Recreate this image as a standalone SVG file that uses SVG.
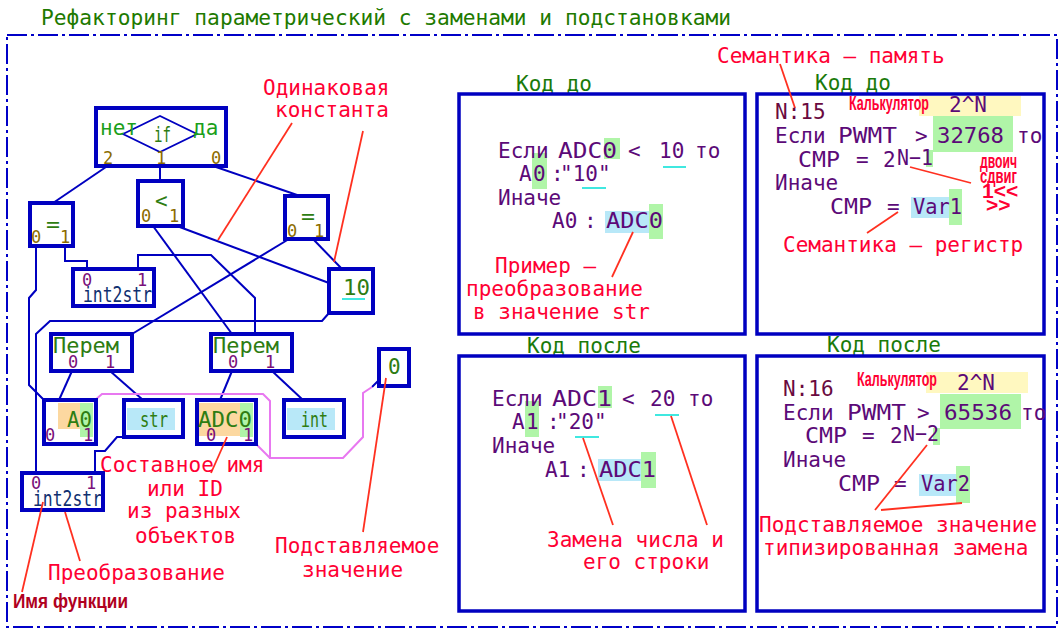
<svg xmlns="http://www.w3.org/2000/svg" width="1064" height="636" viewBox="0 0 1064 636">
<style>
text { font-family: "DejaVu Sans Mono", "Liberation Mono", monospace; font-size: 21px; }
.title { fill: #1e7a00; }
.red { fill: #ff0033; }
.code { fill: #5c0a78; }
.maroon { fill: #6a0a40; }
.lbl { fill: #1a7a0a; }
.gt { fill: #2e7d12; }
.num { fill: #8c6c00; font-size: 17px; }
.pnum { fill: #7a107a; font-size: 17px; }
.fn { fill: #103070; }
.bold { font-family: "Liberation Sans", "DejaVu Sans", sans-serif; font-weight: bold; }
.node { fill: #ffffff; stroke: #0000c0; stroke-width: 4; }
.cbox { fill: none; stroke: #0000c0; stroke-width: 3.5; }
.conn { fill: none; stroke: #0000c0; stroke-width: 2; }
.pink { fill: none; stroke: #e878f0; stroke-width: 2; }
.ann { stroke: #ff3020; stroke-width: 1.8; fill: none; }
.hg { fill: #b0f5a8; }
.hb { fill: #b8e8f8; }
.ho { fill: #fcd8a0; }
.hy { fill: #fff8c0; }
.ul { stroke: #40e8e0; stroke-width: 2; }
</style>
<rect width="1064" height="636" fill="#ffffff"/>
<text class="title" x="41" y="25" textLength="690" lengthAdjust="spacingAndGlyphs">Рефакторинг параметрический с заменами и подстановками</text>
<rect x="7" y="35" width="1050" height="592" fill="none" stroke="#0000c8" stroke-width="2" stroke-dasharray="20 4 3 4"/>

<!-- connectors -->
<g id="connectors">
  <path class="conn" d="M106,167 L53,203"/>
  <path class="conn" d="M160,167 L160,181"/>
  <path class="conn" d="M216,167 L300,196"/>
  <path class="conn" d="M177,226 L329,283"/>
  <path class="conn" d="M153,226 L232,334"/>
  <path class="conn" d="M289,239 L132,334"/>
  <path class="conn" d="M313,239 L342,269"/>
  <path class="conn" d="M36,246 L36,290 L29,298 L29,385 L44,400"/>
  <path class="conn" d="M65,246 L65,261 L87,261 L87,269"/>
  <path class="conn" d="M138,269 L138,255 L211,255 L255,298 L255,334"/>
  <path class="conn" d="M329,313 L322,321 L50,321 L36,334 L36,473"/>
  <path class="conn" d="M72,371 L59,400"/>
  <path class="conn" d="M110,371 L143,400"/>
  <path class="conn" d="M232,371 L220,400"/>
  <path class="conn" d="M272,371 L303,400"/>
  <path class="conn" d="M124,437 L117,437 L105,451 L95,451 L95,473"/>
  <path class="conn" d="M372,387 L379,380"/>
  <path class="pink" d="M86,408 L102,394 L263,394 L270,401 L270,458 L343,458 L363,437 L363,393 L372,387"/>
  <path class="pink" d="M256,444 L270,458"/>
</g>

<!-- left graph nodes -->
<g id="if">
  <rect class="node" x="96" y="108" width="130" height="58"/>
  <path d="M123,134 L160,116 L197,134 L160,152 Z" fill="none" stroke="#0000c0" stroke-width="1.8"/>
  <text x="100" y="135" fill="#1aa01a" font-size="18">нет</text>
  <text x="193" y="135" fill="#1aa01a" font-size="18">да</text>
  <text x="154" y="142" class="gt" font-size="19" textLength="17" lengthAdjust="spacingAndGlyphs">if</text>
  <text x="103" y="164" class="num" font-size="18">2</text>
  <text x="156" y="164" class="num" font-size="18">1</text>
  <text x="211" y="164" class="num" font-size="18">0</text>
</g>
<g id="lt">
  <rect class="node" x="138" y="181" width="45" height="45"/>
  <text x="155" y="208" class="gt">&lt;</text>
  <text x="141" y="222" class="num">0</text>
  <text x="169" y="222" class="num">1</text>
</g>
<g id="eqL">
  <rect class="node" x="30" y="203" width="43" height="43"/>
  <text x="46" y="232" class="gt" font-size="24" textLength="14" lengthAdjust="spacingAndGlyphs">=</text>
  <text x="31" y="243" class="num">0</text>
  <text x="60" y="243" class="num">1</text>
</g>
<g id="eqR">
  <rect class="node" x="285" y="196" width="43" height="43"/>
  <text x="301" y="224" class="gt" font-size="24" textLength="14" lengthAdjust="spacingAndGlyphs">=</text>
  <text x="287" y="237" class="num">0</text>
  <text x="314" y="237" class="num">1</text>
</g>
<g id="c10">
  <rect class="node" x="329" y="269" width="44" height="44"/>
  <text x="343" y="295" class="gt" textLength="27" lengthAdjust="spacingAndGlyphs">10</text>
  <line class="ul" x1="342" y1="299" x2="365" y2="299"/>
</g>
<g id="int2strTop">
  <rect class="node" x="73" y="269" width="81" height="37"/>
  <text x="82" y="286" class="pnum">0</text>
  <text x="137" y="286" class="pnum">1</text>
  <text x="83" y="302" class="fn" textLength="69" lengthAdjust="spacingAndGlyphs">int2str</text>
</g>
<g id="perem1">
  <rect class="node" x="51" y="334" width="81" height="37"/>
  <text x="53" y="353" class="gt" textLength="66" lengthAdjust="spacingAndGlyphs">Перем</text>
  <text x="68" y="368" class="pnum">0</text>
  <text x="105" y="368" class="pnum">1</text>
</g>
<g id="perem2">
  <rect class="node" x="211" y="334" width="81" height="37"/>
  <text x="213" y="353" class="gt" textLength="66" lengthAdjust="spacingAndGlyphs">Перем</text>
  <text x="228" y="368" class="pnum">0</text>
  <text x="265" y="368" class="pnum">1</text>
</g>
<g id="a0">
  <rect class="node" x="44" y="400" width="52" height="44"/>
  <rect class="ho" x="58" y="403" width="22" height="26"/>
  <rect class="hg" x="80" y="403" width="13" height="34"/>
  <text x="67" y="427" class="gt" textLength="25" lengthAdjust="spacingAndGlyphs">A0</text>
  <text x="45" y="441" class="pnum">0</text>
  <text x="83" y="441" class="pnum">1</text>
</g>
<g id="str">
  <rect class="node" x="124" y="400" width="59" height="37"/>
  <rect class="hb" x="127" y="408" width="48" height="22"/>
  <text x="140" y="427" class="gt" textLength="28" lengthAdjust="spacingAndGlyphs">str</text>
</g>
<g id="adc0">
  <rect class="node" x="197" y="400" width="59" height="44"/>
  <rect class="ho" x="199" y="403" width="41" height="33"/>
  <rect class="hg" x="240" y="403" width="13" height="34"/>
  <text x="198" y="427" class="gt" textLength="54" lengthAdjust="spacingAndGlyphs">ADC0</text>
  <text x="206" y="441" class="pnum">0</text>
  <text x="243" y="441" class="pnum">1</text>
</g>
<g id="int">
  <rect class="node" x="284" y="400" width="60" height="37"/>
  <rect class="hb" x="287" y="408" width="48" height="22"/>
  <text x="301" y="427" class="gt" textLength="27" lengthAdjust="spacingAndGlyphs">int</text>
</g>
<g id="zero">
  <rect class="node" x="379" y="349" width="30" height="37"/>
  <text x="388" y="374" class="gt">0</text>
</g>
<g id="int2strBottom">
  <rect class="node" x="22" y="473" width="81" height="37"/>
  <text x="31" y="489" class="pnum">0</text>
  <text x="86" y="489" class="pnum">1</text>
  <text x="33" y="506" class="fn" textLength="69" lengthAdjust="spacingAndGlyphs">int2str</text>
</g>

<!-- annotations left -->
<g id="annotations-left">
  <path class="ann" d="M292,123 L218,240"/>
  <path class="ann" d="M363,131 L334,262"/>
  <path class="ann" d="M227,437 L211,473"/>
  <path class="ann" d="M65,512 L80,561"/>
  <path class="ann" d="M43,502 L22,592"/>
  <path class="ann" d="M386,378 L363,532"/>
  <text class="red" x="263" y="95">Одинаковая</text>
  <text class="red" x="275" y="117">константа</text>
  <text class="red" x="100" y="472">Составное имя</text>
  <text class="red" x="147" y="496">или ID</text>
  <text class="red" x="127" y="518">из разных</text>
  <text class="red" x="135" y="543">объектов</text>
  <text class="red" x="48" y="580">Преобразование</text>
  <text class="bold" x="13" y="608" fill="#b00020" font-size="16" textLength="115" lengthAdjust="spacingAndGlyphs">Имя функции</text>
  <text class="red" x="275" y="553">Подставляемое</text>
  <text class="red" x="302" y="577">значение</text>
</g>

<!-- code box 1 -->
<g id="code-before-1">
  <text class="lbl" x="516" y="91">Код до</text>
  <rect class="cbox" x="459" y="94" width="286" height="240"/>
  <rect class="hg" x="604" y="138" width="16" height="21"/>
  <rect class="hg" x="532" y="153" width="15" height="36"/>
  <rect class="hb" x="605" y="211" width="44" height="22"/>
  <rect class="hg" x="649" y="204" width="14" height="35"/>
  <line class="ul" x1="663" y1="167" x2="686" y2="167"/>
  <line class="ul" x1="582" y1="188" x2="606" y2="188"/>
  <text class="code" y="158"><tspan x="498">Если</tspan><tspan x="628">&lt;</tspan><tspan x="659">10</tspan><tspan x="695">то</tspan></text>
  <text class="code" x="558" y="158" textLength="59" lengthAdjust="spacingAndGlyphs">ADC0</text>
  <text class="code" y="181"><tspan x="519">A</tspan><tspan x="533">0</tspan><tspan x="551">:</tspan><tspan x="560">"10"</tspan></text>
  <text class="code" x="498" y="205">Иначе</text>
  <text class="code" y="228"><tspan x="552">A0</tspan><tspan x="584">:</tspan></text>
  <text class="code" x="606" y="228" textLength="57" lengthAdjust="spacingAndGlyphs">ADC0</text>
  <path class="ann" d="M633,232 L612,277"/>
  <text class="red" x="495" y="273">Пример —</text>
  <text class="red" x="466" y="296">преобразование</text>
  <text class="red" x="473" y="319">в значение str</text>
</g>

<!-- code box 2 -->
<g id="code-before-2">
  <text class="red" x="717" y="63">Семантика — память</text>
  <text class="lbl" x="815" y="90">Код до</text>
  <rect class="cbox" x="757" y="94" width="287" height="240"/>
  <rect class="hy" x="919" y="96" width="102" height="20"/>
  <rect class="hg" x="933" y="116" width="80" height="36"/>
  <rect class="hg" x="926" y="150" width="7" height="17"/>
  <rect class="hb" x="911" y="197" width="38" height="21"/>
  <rect class="hg" x="949" y="189" width="13" height="36"/>
  <path class="ann" d="M780,64 L795,108"/>
  <text class="maroon" x="775" y="119">N:15</text>
  <text class="bold" x="849" y="110" fill="#ff0033" font-size="13" textLength="80" lengthAdjust="spacingAndGlyphs">Калькулятор</text>
  <text class="code" x="949" y="112">2^N</text>
  <text class="code" y="143"><tspan x="775">Если</tspan><tspan x="915">&gt;</tspan><tspan x="1017">то</tspan></text>
  <text class="code" x="838" y="143" textLength="59" lengthAdjust="spacingAndGlyphs">PWMT</text>
  <text class="code" x="937" y="143" textLength="67" lengthAdjust="spacingAndGlyphs">32768</text>
  <text class="code" y="167"><tspan x="856">=</tspan><tspan x="883">2</tspan></text>
  <text class="code" x="798" y="167" textLength="42" lengthAdjust="spacingAndGlyphs">CMP</text>
  <text class="code" x="897" y="165" font-size="18" textLength="36" lengthAdjust="spacingAndGlyphs">N−1</text>
  <text class="code" x="775" y="190">Иначе</text>
  <text class="code" x="887" y="214">=</text>
  <text class="code" x="830" y="214" textLength="42" lengthAdjust="spacingAndGlyphs">CMP</text>
  <text class="code" x="913" y="214" textLength="49" lengthAdjust="spacingAndGlyphs">Var1</text>
  <path class="ann" d="M910,167 L971,183"/>
  <path class="ann" d="M898,212 L867,233"/>
  <text class="bold" x="980" y="168" fill="#ff0033" font-size="13" textLength="37" lengthAdjust="spacingAndGlyphs">двоич</text>
  <text class="bold" x="980" y="183" fill="#ff0033" font-size="13" textLength="37" lengthAdjust="spacingAndGlyphs">сдвиг</text>
  <text class="bold" x="982" y="198" fill="#ff0033" font-size="13">1&lt;&lt;</text>
  <text class="bold" x="986" y="212" fill="#ff0033" font-size="13">&gt;&gt;</text>
  <text class="red" x="783" y="252">Семантика — регистр</text>
</g>

<!-- code box 3 -->
<g id="code-after-1">
  <text class="lbl" x="527" y="353">Код после</text>
  <rect class="cbox" x="459" y="356" width="286" height="255"/>
  <rect class="hg" x="598" y="386" width="14" height="22"/>
  <rect class="hg" x="525" y="401" width="14" height="36"/>
  <rect class="hb" x="598" y="459" width="43" height="22"/>
  <rect class="hg" x="641" y="452" width="15" height="36"/>
  <line class="ul" x1="655" y1="415" x2="679" y2="415"/>
  <line class="ul" x1="575" y1="437" x2="599" y2="437"/>
  <text class="code" y="406"><tspan x="492">Если</tspan><tspan x="622">&lt;</tspan><tspan x="650">20</tspan><tspan x="688">то</tspan></text>
  <text class="code" x="552" y="406" textLength="60" lengthAdjust="spacingAndGlyphs">ADC1</text>
  <text class="code" y="429"><tspan x="512">A</tspan><tspan x="526">1</tspan><tspan x="547">:</tspan><tspan x="556">"20"</tspan></text>
  <text class="code" x="492" y="453">Иначе</text>
  <text class="code" y="477"><tspan x="545">A1</tspan><tspan x="577">:</tspan></text>
  <text class="code" x="599" y="477" textLength="57" lengthAdjust="spacingAndGlyphs">ADC1</text>
  <path class="ann" d="M583,438 L613,525"/>
  <path class="ann" d="M671,416 L707,525"/>
  <text class="red" x="547" y="547">Замена числа и</text>
  <text class="red" x="583" y="569">его строки</text>
</g>

<!-- code box 4 -->
<g id="code-after-2">
  <text class="lbl" x="827" y="352">Код после</text>
  <rect class="cbox" x="757" y="356" width="287" height="255"/>
  <rect class="hy" x="926" y="372" width="102" height="21"/>
  <rect class="hg" x="940" y="394" width="81" height="35"/>
  <rect class="hg" x="933" y="428" width="7" height="17"/>
  <rect class="hb" x="919" y="474" width="37" height="22"/>
  <rect class="hg" x="956" y="466" width="14" height="37"/>
  <text class="maroon" x="783" y="396">N:16</text>
  <text class="bold" x="857" y="386" fill="#ff0033" font-size="13" textLength="80" lengthAdjust="spacingAndGlyphs">Калькулятор</text>
  <text class="code" x="957" y="390">2^N</text>
  <text class="code" y="420"><tspan x="783">Если</tspan><tspan x="917">&gt;</tspan><tspan x="1021">то</tspan></text>
  <text class="code" x="847" y="420" textLength="59" lengthAdjust="spacingAndGlyphs">PWMT</text>
  <text class="code" x="944" y="420" textLength="68" lengthAdjust="spacingAndGlyphs">65536</text>
  <text class="code" y="443"><tspan x="862">=</tspan><tspan x="890">2</tspan></text>
  <text class="code" x="805" y="443" textLength="42" lengthAdjust="spacingAndGlyphs">CMP</text>
  <text class="code" x="903" y="441" font-size="18" textLength="36" lengthAdjust="spacingAndGlyphs">N−2</text>
  <text class="code" x="783" y="467">Иначе</text>
  <text class="code" x="894" y="491">=</text>
  <text class="code" x="838" y="491" textLength="42" lengthAdjust="spacingAndGlyphs">CMP</text>
  <text class="code" x="921" y="491" textLength="49" lengthAdjust="spacingAndGlyphs">Var2</text>
  <path class="ann" d="M927,445 L875,510"/>
  <path class="ann" d="M881,510 L962,503"/>
  <text class="red" x="759" y="532">Подставляемое значение</text>
  <text class="red" x="763" y="555">типизированная замена</text>
</g>
</svg>
